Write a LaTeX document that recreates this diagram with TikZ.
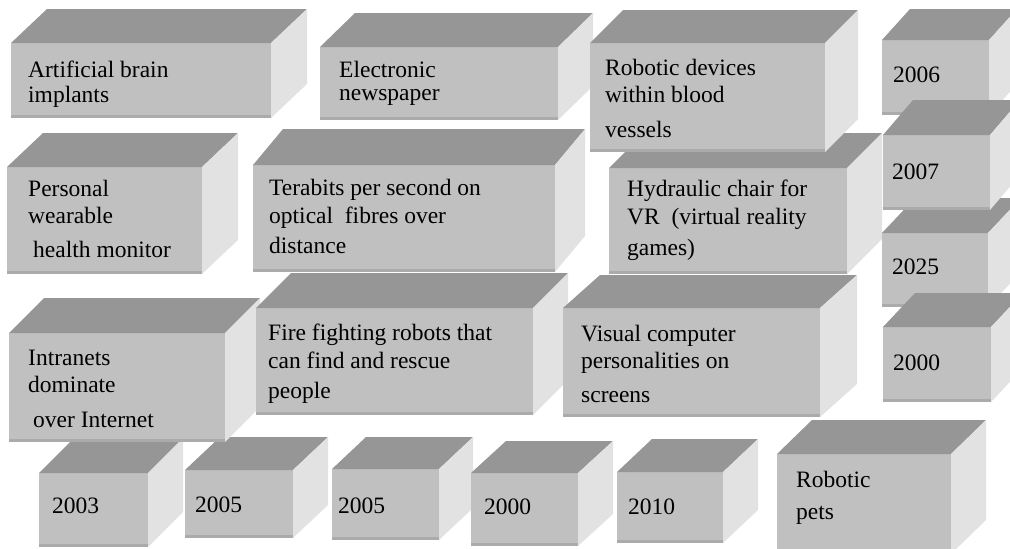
\documentclass[tikz,border=0pt]{standalone}
\usepackage{fontspec}
\setmainfont{Liberation Serif}
\definecolor{frontgray}{HTML}{C0C0C0}
\definecolor{topgray}{HTML}{969696}
\definecolor{sidegray}{HTML}{E2E2E2}
\definecolor{rimgray}{HTML}{ABABAB}

% name, x, y, width, height, depth x, depth y, last baseline, text
\newcommand{\gbox}[9]{%
  \node[front, minimum width=#4pt, minimum height=#5pt] (#1) at (#2,#3) {};
  \fill[topface] (#1.north west) -- ++(#6,-#7) -- ++(#4,0) -- (#1.north east) -- cycle;
  \fill[sideface] (#1.north east) -- ++(#6,-#7) -- ++(0,#5) -- (#1.south east) -- cycle;
  \draw[rim] ([yshift=1.5pt]#1.south west) -- ([yshift=1.5pt]#1.south east);
  \node[boxtext] (#1-txt) at #8 {#9};
}

\begin{document}
\begin{tikzpicture}[x=1pt, y=-1pt,
    front/.style = {anchor=north west, fill=frontgray, inner sep=0pt, outer sep=0pt},
    topface/.style = {fill=topgray},
    sideface/.style = {fill=sidegray},
    rim/.style = {draw=rimgray, line width=3pt},
    boxtext/.style = {anchor=base west, align=left, inner sep=0pt,
                      font=\rmfamily\fontsize{23.5}{27}\selectfont},
]
\useasboundingbox (0,0) rectangle (1010,549);

% bottom row
\gbox{y2003}{39}{473}{109}{74}{35}{35}{(52,513)}{2003}
\gbox{y2005a}{185}{470}{108}{68}{35}{33}{(195,512)}{2005}
\gbox{y2005b}{332}{469}{107}{71}{34}{32}{(338,513)}{2005}
\gbox{y2000b}{471}{473}{107}{73}{35}{32}{(484,514)}{2000}
\gbox{y2010}{617}{472}{106}{71}{35}{33}{(628,514)}{2010}
\gbox{pets}{777}{454}{174}{100}{35}{34}{(796,519)}{Robotic\\[5pt]pets}

% third row
\gbox{intranet}{9}{333}{216}{109}{35}{35}{(28,427)}{Intranets\\dominate\\[8pt]\hspace{5pt}over Internet}
\gbox{rescue}{256}{308}{277}{107}{35}{35}{(268,398)}{Fire fighting robots that\\[1pt]can find and rescue\\[3pt]people}
\gbox{screens}{563}{308}{257}{109}{37}{33}{(581,402)}{Visual computer\\personalities on\\[7pt]screens}

% second row
\gbox{health}{7}{167}{195}{107}{36}{34}{(28,257)}{Personal\\wearable\\[7pt]\hspace{5pt}health monitor}
\gbox{fibres}{253}{165}{302}{107}{30}{36}{(269,253)}{Terabits per second on\\[1pt]optical~ fibres over\\[3pt]distance}
\gbox{chair}{609}{168}{238}{106}{35}{35}{(627,255)}{Hydraulic chair for\\[1pt]VR~ (virtual reality\\[4pt]games)}

% top row
\gbox{brain}{11}{43}{260}{75}{36}{34}{(28,102)}{Artificial brain\\[-2pt]implants}
\gbox{news}{320}{47}{238}{73}{35}{34}{(339,100)}{Electronic\\[-4pt]newspaper}
\gbox{vessels}{590}{43}{235}{109}{33}{33}{(605,137)}{Robotic devices\\within blood\\[8pt]vessels}

% years on the right
\gbox{y2006}{882}{40}{107}{75}{28}{31}{(893,82)}{2006}
\gbox{y2025}{882}{233}{106}{74}{33}{35}{(892,274)}{2025}
\gbox{y2007}{883}{135}{107}{75}{30}{35}{(892,179)}{2007}
\gbox{y2000r}{883}{327}{108}{75}{32}{34}{(893,370)}{2000}
\end{tikzpicture}
\end{document}
